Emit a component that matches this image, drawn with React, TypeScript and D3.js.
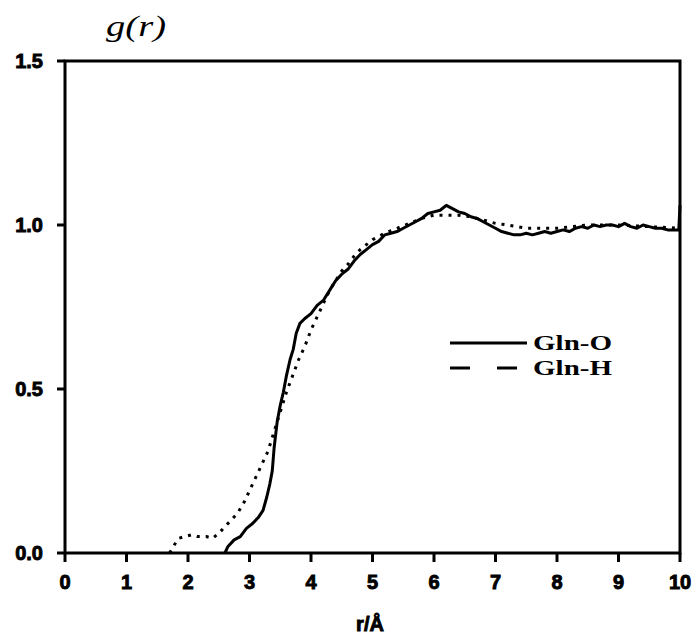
import React from "react";
import * as d3 from "d3";

const xTicks = [0, 1, 2, 3, 4, 5, 6, 7, 8, 9, 10];
const yTicks = [0.0, 0.5, 1.0, 1.5];

const rO = [2.6, 2.65, 2.75, 2.85, 2.95, 3.05, 3.15, 3.22, 3.28, 3.33, 3.37, 3.4, 3.45, 3.5, 3.55, 3.6, 3.66, 3.71, 3.76, 3.82, 3.9, 4.0, 4.1, 4.2, 4.3, 4.4, 4.5, 4.6, 4.7, 4.8, 4.9, 5.0, 5.1, 5.2, 5.3, 5.4, 5.5, 5.6, 5.7, 5.8, 5.9, 6.0, 6.1, 6.2, 6.3, 6.4, 6.5, 6.6, 6.7, 6.8, 6.9, 7.0, 7.1, 7.2, 7.3, 7.4, 7.5, 7.6, 7.7, 7.8, 7.9, 8.0, 8.1, 8.2, 8.3, 8.4, 8.5, 8.6, 8.7, 8.8, 8.9, 9.0, 9.1, 9.2, 9.3, 9.4, 9.5, 9.6, 9.7, 9.8, 9.9, 9.98, 10.0];
const gO = [0, 0.02, 0.04, 0.05, 0.075, 0.09, 0.11, 0.13, 0.17, 0.21, 0.25, 0.32, 0.4, 0.45, 0.49, 0.54, 0.59, 0.62, 0.67, 0.7, 0.715, 0.73, 0.755, 0.77, 0.8, 0.83, 0.85, 0.865, 0.89, 0.91, 0.925, 0.94, 0.95, 0.97, 0.975, 0.98, 0.99, 1.0, 1.01, 1.02, 1.035, 1.04, 1.045, 1.06, 1.05, 1.04, 1.035, 1.025, 1.02, 1.01, 1.0, 0.99, 0.98, 0.975, 0.97, 0.97, 0.975, 0.97, 0.975, 0.98, 0.975, 0.98, 0.985, 0.98, 0.99, 0.995, 0.99, 1.0, 0.995, 1.0, 1.0, 0.995, 1.005, 0.995, 0.99, 1.0, 0.995, 0.99, 0.99, 0.985, 0.985, 0.985, 1.06];

const rH = [1.7, 1.76, 1.85, 1.95, 2.05, 2.15, 2.3, 2.4, 2.5, 2.6, 2.7, 2.8, 2.9, 3.0, 3.1, 3.2, 3.3, 3.4, 3.5, 3.6, 3.7, 3.8, 3.9, 4.0, 4.1, 4.2, 4.3, 4.4, 4.5, 4.6, 4.7, 4.8, 4.9, 5.0, 5.2, 5.4, 5.6, 5.8, 6.0, 6.2, 6.4, 6.6, 6.8, 7.0, 7.2, 7.5, 8.0, 8.5, 9.0, 9.5, 10.0];
const gH = [0, 0.02, 0.045, 0.05, 0.055, 0.05, 0.05, 0.045, 0.06, 0.08, 0.1, 0.12, 0.15, 0.19, 0.23, 0.27, 0.31, 0.37, 0.43, 0.49, 0.54, 0.59, 0.63, 0.68, 0.72, 0.76, 0.8, 0.83, 0.86, 0.88, 0.905, 0.925, 0.94, 0.955, 0.975, 0.99, 1.005, 1.02, 1.03, 1.03, 1.03, 1.025, 1.015, 1.005, 1.0, 0.99, 0.99, 1.0, 1.0, 0.995, 0.99];

const seriesNames = ["Gln-O", "Gln-H"];

export default function App() {
  const W = 694, H = 641;
  const x = d3.scaleLinear().domain([0, 10]).range([65, 680]);
  const y = d3.scaleLinear().domain([0, 1.5]).range([553, 61]);
  const line = d3.line<[number, number]>().x(d => x(d[0])).y(d => y(d[1]));
  const dO = line(rO.map((r, i) => [r, gO[i]]) as [number, number][]) || "";
  const dH = line(rH.map((r, i) => [r, gH[i]]) as [number, number][]) || "";
  const tickFont = "'Liberation Sans', Arial, sans-serif";
  const serif = "'Liberation Serif', 'DejaVu Serif', serif";
  return (
    <svg width={W} height={H} style={{ position: "absolute", left: 0, top: 0, background: "#fff" }}>
      <rect x={0} y={0} width={W} height={H} fill="#fff" />
      <path d={dH} fill="none" stroke="#000" strokeWidth={3} strokeDasharray="3,6" />
      <path d={dO} fill="none" stroke="#000" strokeWidth={3} strokeLinejoin="round" />
      <rect x={x(0)} y={y(1.5)} width={x(10) - x(0)} height={y(0) - y(1.5)} fill="none" stroke="#000" strokeWidth={3} />
      {xTicks.map(t => (
        <g key={"x" + t}>
          <line x1={x(t)} x2={x(t)} y1={y(0)} y2={y(0) + 9} stroke="#000" strokeWidth={3} />
          <text x={x(t)} y={589} textAnchor="middle" fontFamily={tickFont} fontWeight="bold" fontSize={20} stroke="#000" strokeWidth={0.9}>{t}</text>
        </g>
      ))}
      {yTicks.map(t => (
        <g key={"y" + t}>
          <line x1={x(0) - 8} x2={x(0)} y1={y(t)} y2={y(t)} stroke="#000" strokeWidth={3} />
          <text x={43} y={y(t) + 7} textAnchor="end" fontFamily={tickFont} fontWeight="bold" fontSize={20} stroke="#000" strokeWidth={0.9}>{t.toFixed(1)}</text>
        </g>
      ))}
      <text x={370} y={631} textAnchor="middle" fontFamily={tickFont} fontWeight="bold" fontSize={20} stroke="#000" strokeWidth={0.9}>r/Å</text>
      <text x={106} y={36} fontFamily={serif} fontStyle="italic" fontSize={30} textLength={60} lengthAdjust="spacingAndGlyphs">g(r)</text>
      <line x1={450} x2={527} y1={343} y2={343} stroke="#000" strokeWidth={3} />
      <text x={533} y={350} fontFamily={serif} fontWeight="bold" fontSize={20} textLength={79} lengthAdjust="spacingAndGlyphs">{seriesNames[0]}</text>
      <line x1={450} x2={517} y1={368} y2={368} stroke="#000" strokeWidth={3} strokeDasharray="20,27" />
      <text x={533} y={375} fontFamily={serif} fontWeight="bold" fontSize={20} textLength={79} lengthAdjust="spacingAndGlyphs">{seriesNames[1]}</text>
    </svg>
  );
}
